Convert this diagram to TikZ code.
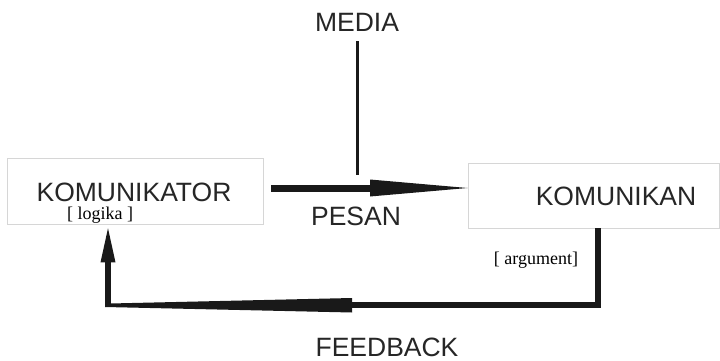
\documentclass[tikz,border=0pt]{standalone}
\usepackage{fontspec}
\setmainfont{Liberation Sans}
\newfontfamily\brfont{Liberation Serif}
\usetikzlibrary{arrows.meta,calc}
\begin{document}
\begin{tikzpicture}[x=1pt,y=-1pt,
  boxshape/.style={draw=black!16,line width=0.9pt,inner sep=0pt,fill=white},
  bigtext/.style={inner sep=0pt,font=\fontsize{26.5}{30}\selectfont,text=black!85},
  brtext/.style={inner sep=0pt,font=\brfont\fontsize{18}{21}\selectfont},
  heavy/.style={line width=7pt,draw=black!90},
]
\useasboundingbox[fill=white] (0,0) rectangle (720,361);
% boxes
\node[boxshape,minimum width=256pt,minimum height=66pt] (kbox) at (135,191) {};
\node[boxshape,minimum width=251pt,minimum height=65pt] (nbox) at (593.5,195.5) {};
% texts
\node[bigtext] (komunikator) at (134,192) {KOMUNIKATOR};
\node[bigtext] (komunikan) at (616,196) {KOMUNIKAN};
\node[brtext] (logika) at (100,215) {[ logika ]};
\node[brtext] (argument) at (536,260) {[ argument]};
\node[bigtext] (media) at (357,22) {MEDIA};
\node[bigtext] (pesan) at (356,216) {PESAN};
\node[bigtext] (feedback) at (387,347) {FEEDBACK};
% media line
\coordinate (mend) at (357,175);
\draw[line width=3pt,black!90] (media.south) ++(0,10) -- (mend);
% pesan arrow
\coordinate (pstart) at (271,188);
\coordinate (pmid) at (370,188);
\draw[heavy] (pstart) -- (pmid);
\fill[black!90] ($(pmid)+(0,-8.5)$) -- (pstart -| nbox.west) -- ($(pmid)+(0,8.5)$) -- cycle;
% feedback path
\coordinate (fr) at (598,305);
\coordinate (fm) at (350,305);
\coordinate (fl) at (108,305);
\draw[line width=5.5pt,black!90] (nbox.south -| fr) -- (fr) -- (fm);
\fill[black!90] ($(fm)+(2,-7)$) -- ($(fl)+(2,-1.5)$) -- ($(fl)+(-3,-1.5)$) -- ($(fl)+(-3,2)$) -- ($(fm)+(2,7.5)$) -- cycle;
\draw[line width=6pt,black!90,-{Triangle[length=38pt,width=13pt]}] ($(fl)+(0,2)$) -- (fl |- kbox.south);
\end{tikzpicture}
\end{document}
